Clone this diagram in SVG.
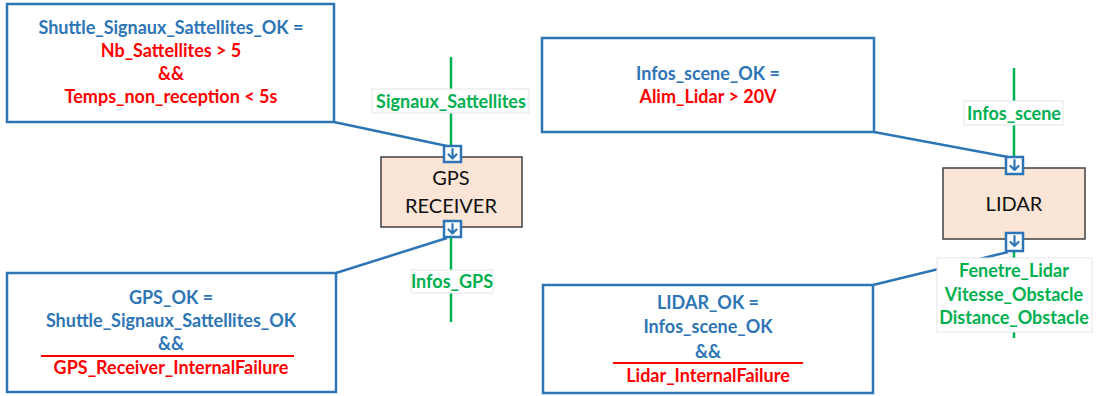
<svg xmlns="http://www.w3.org/2000/svg" width="1096" height="396" viewBox="0 0 1096 396">
<defs>
<style>
.cbox{fill:#fff;stroke:#2E75B6;stroke-width:2.5}
.blk{fill:#FBE5D6;stroke:#404040;stroke-width:1.5}
.port{fill:#fff;stroke:#2E75B6;stroke-width:2.5}
.parr{fill:none;stroke:#2E75B6;stroke-width:2.2;stroke-linecap:round;stroke-linejoin:round}
.conn{fill:none;stroke:#2E75B6;stroke-width:2.5}
.flow{fill:none;stroke:#00B050;stroke-width:2.5}
.lbg{fill:#fff;stroke:#E6E6E6;stroke-width:1}
.t{font-family:Lato,"Liberation Sans",sans-serif;font-weight:bold;font-size:18px;text-anchor:middle}
.b{fill:#2E75B6}
.r{fill:#FF0000}
.g{fill:#00B050}
.n{font-family:Lato,"Liberation Sans",sans-serif;font-size:20px;fill:#111;text-anchor:middle}
</style>
</defs>
<g id="connectors">
<line class="flow" x1="451" y1="57" x2="451" y2="145"/>
<line class="flow" x1="451" y1="238" x2="451" y2="322"/>
<line class="flow" x1="1014" y1="68" x2="1014" y2="156"/>
<line class="flow" x1="1014" y1="252" x2="1014" y2="338"/>
<polyline class="conn" points="334,122 447,146"/>
<polyline class="conn" points="336,273 447,238"/>
<polyline class="conn" points="874,132 1008,157"/>
<polyline class="conn" points="873,285 1008,252"/>
</g>
<g id="label-signaux">
<rect class="lbg" x="372" y="89" width="157" height="24"/>
<text class="t g" x="451" y="108">Signaux_Sattellites</text>
</g>
<g id="label-infos-gps">
<rect class="lbg" x="411" y="270" width="82" height="23"/>
<text class="t g" x="452" y="288">Infos_GPS</text>
</g>
<g id="label-infos-scene">
<rect class="lbg" x="964" y="101" width="99" height="24"/>
<text class="t g" x="1014" y="120">Infos_scene</text>
</g>
<g id="label-lidar-out">
<rect class="lbg" x="937" y="258" width="155" height="74"/>
<text class="t g" x="1014" y="277">Fenetre_Lidar</text>
<text class="t g" x="1014" y="301">Vitesse_Obstacle</text>
<text class="t g" x="1014" y="324">Distance_Obstacle</text>
</g>
<g id="cond-shuttle">
<rect class="cbox" x="7" y="4" width="327" height="118"/>
<text class="t b" x="171" y="34">Shuttle_Signaux_Sattellites_OK =</text>
<text class="t r" x="171" y="57">Nb_Sattellites &gt; 5</text>
<text class="t r" x="171" y="80">&amp;&amp;</text>
<text class="t r" x="171" y="103">Temps_non_reception &lt; 5s</text>
</g>
<g id="cond-gps">
<rect class="cbox" x="7" y="273" width="329" height="119"/>
<text class="t b" x="171" y="304">GPS_OK =</text>
<text class="t b" x="171" y="327">Shuttle_Signaux_Sattellites_OK</text>
<text class="t b" x="171" y="350">&amp;&amp;</text>
<line x1="41" y1="356" x2="294" y2="356" stroke="#FF0000" stroke-width="2"/>
<text class="t r" x="171" y="374">GPS_Receiver_InternalFailure</text>
</g>
<g id="cond-infos-scene">
<rect class="cbox" x="542" y="38" width="332" height="94"/>
<text class="t b" x="708" y="80">Infos_scene_OK =</text>
<text class="t r" x="708" y="103">Alim_Lidar &gt; 20V</text>
</g>
<g id="cond-lidar">
<rect class="cbox" x="543" y="285" width="330" height="108"/>
<text class="t b" x="708" y="309">LIDAR_OK =</text>
<text class="t b" x="708" y="333">Infos_scene_OK</text>
<text class="t b" x="708" y="358">&amp;&amp;</text>
<line x1="613" y1="363" x2="803" y2="363" stroke="#FF0000" stroke-width="2"/>
<text class="t r" x="708" y="382">Lidar_InternalFailure</text>
</g>
<g id="gps-receiver">
<rect class="blk" x="381" y="157" width="141" height="70"/>
<text class="n" x="451" y="185">GPS</text>
<text class="n" x="451" y="213">RECEIVER</text>
<rect class="port" x="444" y="146" width="17" height="16"/>
<path class="parr" d="M452.5,149 V158 M448.5,154.5 L452.5,158.5 L456.5,154.5"/>
<rect class="port" x="444" y="221" width="17" height="16"/>
<path class="parr" d="M452.5,224 V233 M448.5,229.5 L452.5,233.5 L456.5,229.5"/>
</g>
<g id="lidar">
<rect class="blk" x="943" y="168" width="142" height="71"/>
<text class="n" x="1014" y="211">LIDAR</text>
<rect class="port" x="1006" y="157" width="17" height="17"/>
<path class="parr" d="M1014.5,160 V170 M1010.5,166 L1014.5,170 L1018.5,166"/>
<rect class="port" x="1006" y="233" width="17" height="18"/>
<path class="parr" d="M1014.5,236 V246 M1010.5,242 L1014.5,246 L1018.5,242"/>
</g>
</svg>
